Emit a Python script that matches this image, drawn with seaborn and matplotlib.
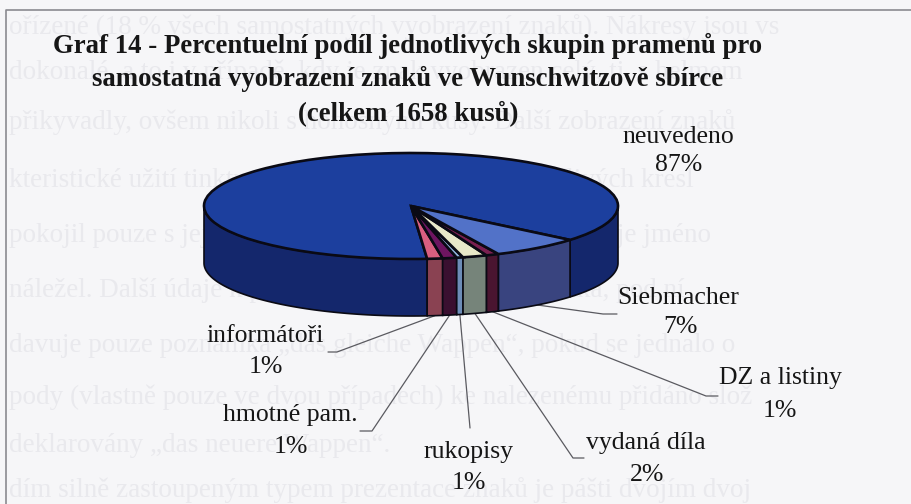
#!/usr/bin/env python3
"""Graf 14 - scanned 3D pie, sources of the coats of arms in the Wunschwitz collection."""

import numpy as np
import matplotlib
matplotlib.use("Agg")
import matplotlib.pyplot as plt
from matplotlib.transforms import Affine2D
import seaborn as sns

# ─── Data ─────────────────────────────────────────────────────────────────────
categories = ["neuvedeno", "informátoři", "hmotné pam.", "rukopisy",
              "vydaná díla", "DZ a listiny", "Siebmacher"]
shares = [87.3, 1.2, 1.1, 0.5, 1.9, 1.0, 7.0]
share_labels = ["87%", "1%", "1%", "1%", "2%", "1%", "7%"]
title_lines = ["Graf 14 - Percentuelní podíl jednotlivých skupin pramenů pro",
               "samostatná vyobrazení znaků ve Wunschwitzově sbírce",
               "(celkem 1658 kusů)"]

# text of the other side of the page, showing through the scan
ghost_lines = [
    "ořízené (18 % všech samostatných vyobrazení znaků). Nákresy jsou vs",
    "dokonalé, a to i v případě, kdy je znak vyobrazen celý, tj. s helmem",
    "přikyvadly, ovšem nikoli s honosnými kusy. Další zobrazení znaků",
    "kteristické užití tinktur a jejich šrafování, méně pečlivých kresl",
    "pokojil pouze s jejich obrysem, u některých vyobrazení je jméno",
    "náležel. Další údaje k původu znaku se objevují zřídka, pod ní",
    "davuje pouze poznámka „das gleiche Wappen“, pokud se jednalo o",
    "pody (vlastně pouze ve dvou případech) ke nalezenému přidáno slož",
    "deklarovány „das neuere Wappen“.",
    "dím silně zastoupeným typem prezentace znaků je pášti dvojím dvoj",
]

# ─── Styling ──────────────────────────────────────────────────────────────────
W, H = 911, 504
PAPER = "#f6f6f8"
INK = "#161616"
sns.set_theme(style="white")
plt.rcParams["font.family"] = ["Liberation Serif", "DejaVu Serif"]

top_colors = sns.color_palette(["#1c3f9e", "#d95f80", "#6d1560", "#8fb0d8",
                                "#e9e9c9", "#7a1f50", "#5272c8"])
wall_colors = sns.color_palette(["#14276c", "#8a4252", "#3a1030", "#6d8db8",
                                 "#76847a", "#4a1530", "#39447f"])

# pie geometry on the page, in pixels
CX, CY, RX, RY, DEPTH = 411, 206, 207, 53, 57
START = -39.8

fig = plt.figure(figsize=(W / 100, H / 100), dpi=100, facecolor=PAPER)
ax = fig.add_axes([0, 0, 1, 1], facecolor=PAPER)
page = Affine2D().scale(1 / W, -1 / H).translate(0, 1) + ax.transAxes  # pixel coords

for y, line in zip([27, 72, 122, 180, 235, 290, 345, 397, 445, 490], ghost_lines):
    ax.text(9, y, line, transform=page, fontsize=19.5, color="#e9e9ed", va="center", zorder=0)

# page frame of the scan
ax.plot([6, 6, W], [H, 10, 10], transform=page, color="#8b8b90", lw=1.2, zorder=1)

# ─── Pie ──────────────────────────────────────────────────────────────────────
wedges, _ = ax.pie(shares, colors=top_colors, startangle=START, radius=1,
                   wedgeprops={"edgecolor": "#0a0a14", "linewidth": 1.9, "zorder": 4})
ax.set_aspect("auto")
ax.set_xlim(-CX / RX, (W - CX) / RX)
ax.set_ylim((CY - H) / RY, CY / RY)
ax.axis("off")
drop = DEPTH / RY

# front wall of each slice
for wedge, color in zip(wedges, wall_colors):
    for shift in (-360, 0, 360):
        a0 = max(wedge.theta1 + shift, 180)
        a1 = min(wedge.theta2 + shift, 360)
        if a1 <= a0:
            continue
        t = np.radians(np.linspace(a0, a1, 80))
        xs = np.r_[np.cos(t), np.cos(t)[::-1]]
        ys = np.r_[np.sin(t), np.sin(t)[::-1] - drop]
        ax.fill(xs, ys, facecolor=color, edgecolor="#0a0a14", linewidth=1.2, zorder=3)

# ─── Labels and leader lines ──────────────────────────────────────────────────
for y, line in zip([46, 79, 113], title_lines):
    ax.text(408, y, line, transform=page, fontsize=19.3, fontweight="bold", color=INK,
            ha="center", va="center", zorder=6)

name_pos = [(678, 137), (265, 336), (290, 415), (469, 452), (646, 443), (780, 378), (678, 298)]
value_pos = [(679, 165), (266, 367), (291, 447), (469, 483), (647, 475), (780, 411), (680, 327)]
elbows = [None, [(328, 352), (337, 352)], [(360, 431), (372, 431)], [(470, 428)],
          [(584, 458), (573, 458)], [(718, 396), (706, 396)], [(617, 314), (603, 314)]]

for i, wedge in enumerate(wedges):
    ax.text(*name_pos[i], categories[i], transform=page, fontsize=18.5, color=INK,
            ha="center", va="center", zorder=6)
    ax.text(*value_pos[i], share_labels[i], transform=page, fontsize=18.5, color=INK,
            ha="center", va="center", zorder=6)
    if elbows[i] is None:
        continue
    mid = np.radians((wedge.theta1 + wedge.theta2) / 2)
    base = (CX + RX * np.cos(mid), CY - RY * np.sin(mid) + DEPTH)
    pts = elbows[i] + [base]
    ax.plot([p[0] for p in pts], [p[1] for p in pts], transform=page,
            color="#5a5a60", lw=0.9, zorder=2, clip_on=False)

fig.savefig("out.png", dpi=100, facecolor=PAPER)
